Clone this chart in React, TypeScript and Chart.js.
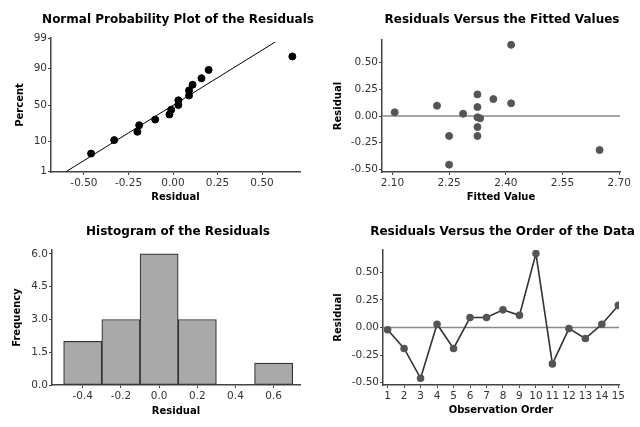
import React, { useEffect, useRef } from "react";
import { Chart, registerables } from "chart.js";

Chart.register(...registerables);

// ---------- Panel 1: Normal probability plot ----------
const NPP_RESIDUAL = [-0.46, -0.33, -0.20, -0.19, -0.10, -0.02, -0.01, 0.03, 0.03, 0.09, 0.09, 0.11, 0.16, 0.20, 0.67];
const NPP_PERCENT = [4.5, 11, 17.5, 24, 30.5, 37, 43.5, 50, 56.5, 63, 69.5, 76, 82.5, 89, 95.5];
const NPP_FIT_RESIDUAL = [-0.60, 0.573];
const NPP_FIT_PERCENT = [1, 98.6];
const NPP_PERCENT_TICKS = [1, 10, 50, 90, 99];
const NPP_X_TICKS = [-0.5, -0.25, 0, 0.25, 0.5];

// ---------- Panel 2: Residuals vs fitted ----------
const FITTED_VALUES = [2.106, 2.218, 2.25, 2.25, 2.287, 2.325, 2.325, 2.325, 2.332, 2.325, 2.325, 2.367, 2.414, 2.414, 2.648];
const FITTED_RESIDUALS = [0.035, 0.097, -0.187, -0.456, 0.022, 0.203, 0.084, -0.012, -0.022, -0.103, -0.187, 0.159, 0.668, 0.119, -0.319];
const FITTED_X_TICKS = [2.10, 2.25, 2.40, 2.55, 2.70];
const RESID_TICKS = [-0.5, -0.25, 0, 0.25, 0.5];

// ---------- Panel 3: Histogram ----------
const HIST_BIN_MIDPOINTS = [-0.4, -0.2, 0.0, 0.2, 0.4, 0.6];
const HIST_FREQUENCIES = [2, 3, 6, 3, 0, 1];
const HIST_X_TICKS = [-0.4, -0.2, 0.0, 0.2, 0.4, 0.6];
const HIST_Y_TICKS = [0, 1.5, 3.0, 4.5, 6.0];

// ---------- Panel 4: Residuals vs order ----------
const OBSERVATION_ORDER = [1, 2, 3, 4, 5, 6, 7, 8, 9, 10, 11, 12, 13, 14, 15];
const ORDER_RESIDUALS = [-0.02, -0.19, -0.46, 0.03, -0.19, 0.09, 0.09, 0.16, 0.11, 0.67, -0.33, -0.01, -0.10, 0.03, 0.20];

// inverse standard normal CDF (normal probability scale transform)
function probit(p: number): number {
  const a = [-39.69683028665376, 220.9460984245205, -275.9285104469687, 138.357751867269, -30.66479806614716, 2.506628277459239];
  const b = [-54.47609879822406, 161.5858368580409, -155.6989798598866, 66.80131188771972, -13.28068155288572];
  const c = [-0.007784894002430293, -0.3223964580411365, -2.400758277161838, -2.549732539343734, 4.374664141464968, 2.938163982698783];
  const d = [0.007784695709041462, 0.3224671290700398, 2.445134137142996, 3.754408661907416];
  const pl = 0.02425;
  if (p < pl) {
    const q = Math.sqrt(-2 * Math.log(p));
    return (((((c[0] * q + c[1]) * q + c[2]) * q + c[3]) * q + c[4]) * q + c[5]) / ((((d[0] * q + d[1]) * q + d[2]) * q + d[3]) * q + 1);
  }
  if (p <= 1 - pl) {
    const q = p - 0.5;
    const r = q * q;
    return ((((((a[0] * r + a[1]) * r + a[2]) * r + a[3]) * r + a[4]) * r + a[5]) * q) / (((((b[0] * r + b[1]) * r + b[2]) * r + b[3]) * r + b[4]) * r + 1);
  }
  const q = Math.sqrt(-2 * Math.log(1 - p));
  return -(((((c[0] * q + c[1]) * q + c[2]) * q + c[3]) * q + c[4]) * q + c[5]) / ((((d[0] * q + d[1]) * q + d[2]) * q + d[3]) * q + 1);
}

const SANS = "'DejaVu Sans', Verdana, sans-serif";
const AXIS_COLOR = "#444";
const TICK_COLOR = "#333";

const zeroLinePlugin = {
  id: "zeroLine",
  beforeDatasetsDraw(chart: any) {
    const { ctx, chartArea, scales } = chart;
    const py = scales.y.getPixelForValue(0);
    ctx.save();
    ctx.strokeStyle = "#888";
    ctx.lineWidth = 1.6;
    ctx.beginPath();
    ctx.moveTo(chartArea.left, py);
    ctx.lineTo(chartArea.right, py);
    ctx.stroke();
    ctx.restore();
  },
};

// panel heading drawn as canvas text at a chosen centre
const panelTitlePlugin = {
  id: "panelTitle",
  afterDraw(chart: any, _args: any, opts: any) {
    if (!opts || !opts.text) return;
    const { ctx } = chart;
    ctx.save();
    ctx.font = `bold ${opts.size}px ${SANS}`;
    ctx.fillStyle = "#000";
    ctx.textAlign = "center";
    ctx.textBaseline = "middle";
    ctx.fillText(opts.text, opts.cx, opts.cy);
    ctx.restore();
  },
};

type Spec = {
  w: number;
  h: number;
  area: { l: number; t: number; r: number; b: number };
  title: string;
  titleSize: number;
  titleCx: number;
  titleCy: number;
  xTitle: string;
  xTitleY: number;
  yTitle: string;
  yTitleX: number;
  xMin: number;
  xMax: number;
  xTicks: number[];
  xLabel: (v: number, i: number) => string;
  yMin: number;
  yMax: number;
  yTicks: number[];
  yLabel: (v: number, i: number) => string;
};

function buildOptions(s: Spec) {
  const axisTitleLH = 10 * 1.2;
  return {
    responsive: false,
    maintainAspectRatio: false,
    animation: false,
    layout: { padding: { left: 0, top: s.area.t, right: s.w - s.area.r, bottom: 0 } },
    plugins: {
      legend: { display: false },
      tooltip: { enabled: false },
      title: { display: false },
      panelTitle: { text: s.title, size: s.titleSize, cx: s.titleCx, cy: s.titleCy },
    },
    scales: {
      x: {
        type: "linear",
        min: s.xMin,
        max: s.xMax,
        offset: false,
        afterFit: (sc: any) => {
          sc.height = s.h - s.area.b;
        },
        afterBuildTicks: (sc: any) => {
          sc.ticks = s.xTicks.map((v) => ({ value: v }));
        },
        ticks: {
          autoSkip: false,
          maxRotation: 0,
          padding: 2,
          color: TICK_COLOR,
          font: { family: SANS, size: 10.5 },
          callback: (v: number, i: number) => s.xLabel(v, i),
        },
        grid: { display: true, drawOnChartArea: false, drawTicks: true, tickLength: 3, color: AXIS_COLOR, offset: false },
        border: { display: true, color: AXIS_COLOR, width: 1.5 },
        title: {
          display: true,
          text: s.xTitle,
          color: "#000",
          font: { family: SANS, size: 10, weight: "bold" },
          padding: { top: 0, bottom: s.h - s.xTitleY - axisTitleLH / 2 },
        },
      },
      y: {
        type: "linear",
        min: s.yMin,
        max: s.yMax,
        afterFit: (sc: any) => {
          sc.width = s.area.l;
        },
        afterBuildTicks: (sc: any) => {
          sc.ticks = s.yTicks.map((v) => ({ value: v }));
        },
        ticks: {
          autoSkip: false,
          padding: 1,
          color: TICK_COLOR,
          font: { family: SANS, size: 10.5 },
          callback: (v: number, i: number) => s.yLabel(v, i),
        },
        grid: { display: true, drawOnChartArea: false, drawTicks: true, tickLength: 3, color: AXIS_COLOR },
        border: { display: true, color: AXIS_COLOR, width: 1.5 },
        title: {
          display: true,
          text: s.yTitle,
          color: "#000",
          font: { family: SANS, size: 10, weight: "bold" },
          padding: { top: s.yTitleX - axisTitleLH / 2, bottom: 0 },
        },
      },
    },
  };
}

const fmt2 = (v: number) => v.toFixed(2);
const fmt1 = (v: number) => v.toFixed(1);

function Panel({ left, top, w, h, make }: { left: number; top: number; w: number; h: number; make: (c: HTMLCanvasElement) => Chart }) {
  const ref = useRef<HTMLCanvasElement | null>(null);
  useEffect(() => {
    if (!ref.current) return;
    const chart = make(ref.current);
    return () => chart.destroy();
  }, []);
  return (
    <canvas
      ref={ref}
      width={w}
      height={h}
      style={{ position: "absolute", left, top, width: w, height: h, display: "block" }}
    />
  );
}

const makeNormal = (c: HTMLCanvasElement) => {
  const spec: Spec = {
    w: 320, h: 213,
    area: { l: 51, t: 38, r: 300, b: 172 },
    title: "Normal Probability Plot of the Residuals",
    titleSize: 12, titleCx: 178, titleCy: 20,
    xTitle: "Residual", xTitleY: 197,
    yTitle: "Percent", yTitleX: 20,
    xMin: -0.685, xMax: 0.713, xTicks: NPP_X_TICKS, xLabel: (v) => fmt2(v),
    yMin: -2.34, yMax: 2.34,
    yTicks: NPP_PERCENT_TICKS.map((p) => probit(p / 100)),
    yLabel: (_v, i) => String(NPP_PERCENT_TICKS[i]),
  };
  return new Chart(c, {
    type: "scatter",
    data: {
      datasets: [
        {
          data: NPP_RESIDUAL.map((x, i) => ({ x, y: probit(NPP_PERCENT[i] / 100) })),
          backgroundColor: "#000",
          borderColor: "#000",
          pointRadius: 3.5,
          showLine: false,
        },
        {
          type: "line",
          data: NPP_FIT_RESIDUAL.map((x, i) => ({ x, y: probit(NPP_FIT_PERCENT[i] / 100) })),
          borderColor: "#000",
          borderWidth: 1,
          pointRadius: 0,
          fill: false,
        },
      ],
    } as any,
    options: buildOptions(spec) as any,
    plugins: [panelTitlePlugin],
  });
};

const makeFitted = (c: HTMLCanvasElement) => {
  const spec: Spec = {
    w: 320, h: 213,
    area: { l: 62, t: 40, r: 300, b: 172 },
    title: "Residuals Versus the Fitted Values",
    titleSize: 12, titleCx: 182, titleCy: 20,
    xTitle: "Fitted Value", xTitleY: 197,
    yTitle: "Residual", yTitleX: 18,
    xMin: 2.0725, xMax: 2.702, xTicks: FITTED_X_TICKS, xLabel: (v) => fmt2(v),
    yMin: -0.525, yMax: 0.713, yTicks: RESID_TICKS, yLabel: (v) => fmt2(v),
  };
  return new Chart(c, {
    type: "scatter",
    data: {
      datasets: [
        {
          data: FITTED_VALUES.map((x, i) => ({ x, y: FITTED_RESIDUALS[i] })),
          backgroundColor: "#555",
          borderColor: "#555",
          pointRadius: 3.5,
        },
      ],
    },
    options: buildOptions(spec) as any,
    plugins: [zeroLinePlugin, panelTitlePlugin],
  });
};

const makeHistogram = (c: HTMLCanvasElement) => {
  const spec: Spec = {
    w: 320, h: 214,
    area: { l: 52, t: 37, r: 300, b: 172 },
    title: "Histogram of the Residuals",
    titleSize: 12, titleCx: 178, titleCy: 19.3,
    xTitle: "Residual", xTitleY: 198,
    yTitle: "Frequency", yTitleX: 17,
    xMin: -0.561, xMax: 0.738, xTicks: HIST_X_TICKS, xLabel: (v) => fmt1(v),
    yMin: 0, yMax: 6.18, yTicks: HIST_Y_TICKS, yLabel: (v) => fmt1(v),
  };
  return new Chart(c, {
    type: "bar",
    data: {
      datasets: [
        {
          data: HIST_BIN_MIDPOINTS.map((x, i) => ({ x, y: HIST_FREQUENCIES[i] })),
          backgroundColor: "#a9a9a9",
          borderColor: "#333",
          borderWidth: 1.2,
          borderSkipped: false,
          barPercentage: 1,
          categoryPercentage: 1,
        },
      ],
    } as any,
    options: buildOptions(spec) as any,
    plugins: [panelTitlePlugin],
  });
};

const makeOrder = (c: HTMLCanvasElement) => {
  const spec: Spec = {
    w: 320, h: 214,
    area: { l: 63, t: 37, r: 299, b: 172 },
    title: "Residuals Versus the Order of the Data",
    titleSize: 12, titleCx: 182.5, titleCy: 19.3,
    xTitle: "Observation Order", xTitleY: 197,
    yTitle: "Residual", yTitleX: 18,
    xMin: 0.72, xMax: 15.04, xTicks: OBSERVATION_ORDER, xLabel: (v) => String(v),
    yMin: -0.521, yMax: 0.702, yTicks: RESID_TICKS, yLabel: (v) => fmt2(v),
  };
  return new Chart(c, {
    type: "line",
    data: {
      datasets: [
        {
          data: OBSERVATION_ORDER.map((x, i) => ({ x, y: ORDER_RESIDUALS[i] })),
          borderColor: "#333",
          borderWidth: 1.6,
          backgroundColor: "#555",
          pointBackgroundColor: "#555",
          pointBorderColor: "#555",
          pointRadius: 3,
          tension: 0,
          fill: false,
        },
      ],
    } as any,
    options: buildOptions(spec) as any,
    plugins: [zeroLinePlugin, panelTitlePlugin],
  });
};

export default function App() {
  return (
    <div style={{ position: "fixed", left: 0, top: 0, width: 640, height: 427, background: "#fff", overflow: "hidden" }}>
      <Panel left={0} top={0} w={320} h={213} make={makeNormal} />
      <Panel left={320} top={0} w={320} h={213} make={makeFitted} />
      <Panel left={0} top={213} w={320} h={214} make={makeHistogram} />
      <Panel left={320} top={213} w={320} h={214} make={makeOrder} />
    </div>
  );
}
